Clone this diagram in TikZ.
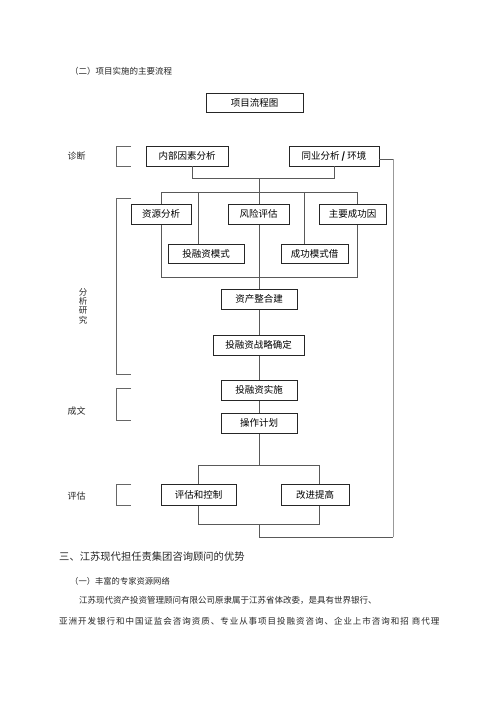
\documentclass[tikz,border=0pt]{standalone}
\usepackage{fontspec}
\newfontfamily\cjk{Noto Sans CJK SC}
\newfontfamily\cjkwide[LetterSpace=11.5]{Noto Sans CJK SC}
\begin{document}
\begin{tikzpicture}[x=1pt,y=-1pt,
  boxnode/.style={draw=black!85,line width=0.7pt,fill=white,inner sep=0pt,
    font=\cjk\fontsize{9.5}{10}\selectfont},
  conn/.style={draw=black!65,line width=0.6pt},
  brk/.style={draw=black!60,line width=0.6pt},
  lbl/.style={inner sep=0pt,font=\cjk\fontsize{8.5}{10}\selectfont,text=black!85},
  body/.style={inner sep=0pt,anchor=west,font=\cjk\fontsize{8.5}{10}\selectfont,text=black!85}]
\useasboundingbox (0,0) rectangle (500,707);
\fill[white] (0,0) rectangle (500,707);

% connectors first
\coordinate (j1) at (192,178);
\coordinate (j2) at (334,178);
\coordinate (jc) at (259,178);
\coordinate (b1) at (161,192);
\coordinate (b2) at (198,192);
\coordinate (b3) at (259,192);
\coordinate (b4) at (304,192);
\coordinate (b5) at (357,192);
\coordinate (l1) at (161,277);
\coordinate (l2) at (357,277);
\coordinate (q1) at (198,465);
\coordinate (q2) at (259,465);
\coordinate (q3) at (319,465);
\coordinate (r1) at (198,524);
\coordinate (r2) at (259,524);
\coordinate (r3) at (319,524);
\coordinate (s1) at (259,537);
\coordinate (s2) at (393,537);
\coordinate (s3) at (393,159);

% boxes (nodes)
\node[boxnode,minimum width=97pt,minimum height=19pt] (title) at (254.5,102.5) {项目流程图};
\node[boxnode,minimum width=82pt,minimum height=20pt] (nb) at (187,156) {内部因素分析};
\node[boxnode,minimum width=90pt,minimum height=20pt] (tb) at (334,156) {同业分析 \textbf{\textit{/}} 环境};

\draw[conn] (nb.south -| j1) -- (j1) -- (j2) -- (tb.south -| j2);
\draw[conn] (jc) -- (b3);
\draw[conn] (b1) -- (b5);
\draw[conn] (b1) -- (l1) -- (l2) -- (b5);
\draw[conn] (b2) -- (b2 |- 0,244);
\draw[conn] (b4) -- (b4 |- 0,244);
\draw[conn] (b3) -- (259,289);
\draw[conn] (259,309) -- (259,335);
\draw[conn] (259,355) -- (259,380);
\draw[conn] (259,400) -- (259,413);
\draw[conn] (259,433) -- (q2);
\draw[conn] (q1) -- (q3);
\draw[conn] (q1) -- (r1) -- (r3) -- (q3);
\draw[conn] (r2) -- (s1) -- (s2);
\draw[draw=black!40,line width=0.6pt] (s2) -- (s3);
\draw[conn] (s3) -- (tb.east |- s3);

\node[boxnode,minimum width=60pt,minimum height=20pt] (zy) at (161,214) {资源分析};
\node[boxnode,minimum width=61pt,minimum height=20pt] (fx) at (258.5,214) {风险评估};
\node[boxnode,minimum width=67pt,minimum height=20pt] (cg) at (352.5,214) {主要成功因};
\node[boxnode,minimum width=76pt,minimum height=19pt] (tm) at (206,253.5) {投融资模式};
\node[boxnode,minimum width=67pt,minimum height=19pt] (cm) at (314.5,253.5) {成功模式借};
\node[boxnode,minimum width=76pt,minimum height=20pt] (zc) at (259,299) {资产整合建};
\node[boxnode,minimum width=91pt,minimum height=20pt] (zl) at (258.5,345) {投融资战略确定};
\node[boxnode,minimum width=76pt,minimum height=20pt] (ss) at (259,390) {投融资实施};
\node[boxnode,minimum width=76pt,minimum height=20pt] (cz) at (259,423) {操作计划};
\node[boxnode,minimum width=75pt,minimum height=21pt] (pg) at (198.5,494.5) {评估和控制};
\node[boxnode,minimum width=68pt,minimum height=21pt] (gj) at (315,494.5) {改进提高};

% brackets
\draw[brk] (131,146) -- (116,146) -- (116,166) -- (131,166);
\draw[brk] (131,198) -- (116,198) -- (116,374) -- (131,374);
\draw[brk] (131,388) -- (116,388) -- (116,420) -- (131,420);
\draw[brk] (131,484) -- (116,484) -- (116,505) -- (131,505);

% side labels
\node[lbl,font=\cjk\fontsize{9}{10}\selectfont] (lzd) at (76.5,156) {诊断};
\node[lbl,align=center,font=\cjk\fontsize{8.5}{9.3}\selectfont] (lfx) at (83,306) {分\\析\\研\\究};
\node[lbl,font=\cjk\fontsize{9}{10}\selectfont] (lcw) at (76.5,411) {成文};
\node[lbl,font=\cjk\fontsize{9}{10}\selectfont] (lpg) at (76.5,496) {评估};

% text
\node[body] (h1) at (70,71) {（二）项目实施的主要流程};
\node[body,font=\cjk\fontsize{10.3}{12}\selectfont] (h2) at (59,557) {三、江苏现代担任责集团咨询顾问的优势};
\node[body,font=\cjk\fontsize{8.3}{10}\selectfont] (h3) at (70,581) {（一）丰富的专家资源网络};
\node[body] (p1) at (79,600) {江苏现代资产投资管理顾问有限公司原隶属于江苏省体改委，是具有世界银行、};
\node[body,font=\cjkwide\fontsize{8.5}{10}\selectfont] (p2) at (59,621) {亚洲开发银行和中国证监会咨询资质、专业从事项目投融资咨询、企业上市咨询和招\hspace{3pt}商代理};
\end{tikzpicture}
\end{document}
